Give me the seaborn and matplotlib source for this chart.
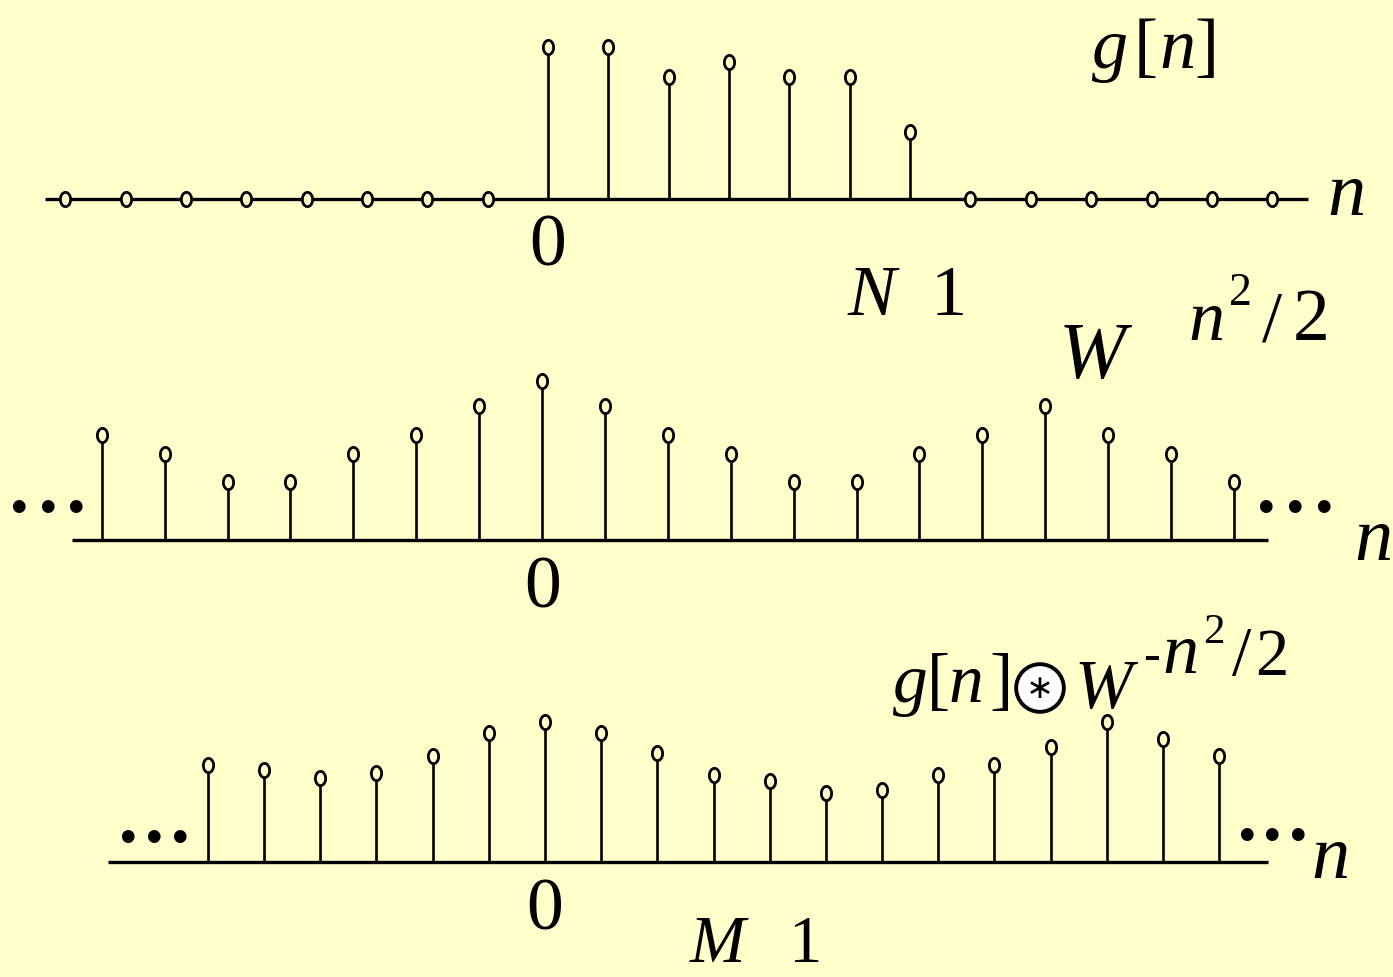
import numpy as np
import matplotlib
matplotlib.use("Agg")
import matplotlib.pyplot as plt
from matplotlib.path import Path
import seaborn as sns

# ---- data (heights, arbitrary units) ----
n_g = list(range(-8, 13))
g_vals = [0, 0, 0, 0, 0, 0, 0, 0, 152, 152, 122, 137, 122, 122, 67, 0, 0, 0, 0, 0, 0]

n_w = list(range(-7, 12))
w_vals = [105, 86, 58, 58, 86, 105, 134, 159, 134, 105, 86, 58, 58, 86, 105, 134, 105, 86, 58]

n_c = list(range(-6, 13))
c_vals = [97, 92, 84, 89, 106, 129, 140, 129, 109, 87, 81, 69, 72, 87, 97, 115, 140, 123, 106]

BG = "#FFFFCC"
W, H = 1393, 977

sns.set_theme(style="white")
plt.rcParams["font.family"] = ["Liberation Serif", "DejaVu Sans"]
plt.rcParams["text.color"] = "black"

fig = plt.figure(figsize=(W / 100, H / 100), dpi=100)
fig.patch.set_facecolor(BG)

t = np.linspace(0, 2 * np.pi, 48)
ellipse = Path(np.c_[0.72 * np.cos(t), np.sin(t)], closed=True)


def panel(top, bottom, base, x0, dx, xmin_b, xmax_b, n, vals):
    ax = fig.add_axes([0, 1 - bottom / H, 1, (bottom - top) / H])
    ax.set_xlim(-x0 / dx, (W - x0) / dx)
    ax.set_ylim(-(bottom - base), base - top)
    ax.axis("off")
    ax.patch.set_alpha(0)
    ax.hlines(0, xmin_b, xmax_b, color="black", lw=2.4, zorder=1)
    nz = [(a, b) for a, b in zip(n, vals) if b != 0]
    ax.vlines([a for a, _ in nz], 0, [b for _, b in nz], color="black", lw=1.9, zorder=2)
    sns.scatterplot(x=n, y=vals, marker=ellipse, s=105, color=BG, edgecolor="black",
                    linewidth=2.0, ax=ax, zorder=3, legend=False)
    return ax


panel(0, 330, 199, 548, 60.35, -8.33, 12.59, n_g, g_vals)
panel(330, 640, 540, 542, 62.9, -7.47, 11.54, n_w, w_vals)
panel(640, 977, 862, 545, 56.17, -7.78, 12.87, n_c, c_vals)

SERIF = ["Liberation Serif", "DejaVu Serif"]


def txt(x, y, s, size=50, it=False, va="baseline", **kw):
    kw.setdefault("family", SERIF)
    fig.text(x / W, 1 - y / H, s, ha="center", va=va, fontsize=size,
             fontstyle="italic" if it else "normal", **kw)


def gn(xs, y, size):
    for x, s, it in zip(xs, ["g", "[", "n", "]"], [True, False, True, False]):
        txt(x, y, s, size, it=it)


def dots(xs, y):
    for x in xs:
        txt(x, y, "●", 12, va="center", family=["DejaVu Sans"])


# panel 1 labels
gn((1110, 1146, 1177, 1206), 68, 52)
txt(548, 265, "0", 53)
txt(1346, 215, "n", 55, it=True)
txt(872, 315, "N", 52, it=True)
txt(949, 315, "1", 52)

# panel 2 labels
txt(1092, 378, "W", 58, it=True)
txt(1206, 340, "n", 52, it=True)
txt(1240, 305, "2", 33)
txt(1272, 340, "/", 52)
txt(1311, 340, "2", 53)
txt(543, 608, "0", 53)
txt(1373, 560, "n", 55, it=True)
dots((18, 47, 75), 506)
dots((1265, 1294, 1323), 506)

# panel 3 labels
gn((910, 938, 966, 1001), 702, 50)
txt(1040, 688, "∗", 24, va="center", family=["DejaVu Sans"],
    bbox=dict(boxstyle="circle,pad=0.22", fc="white", ec="black", lw=2.8))
txt(1103, 708, "W", 50, it=True)
txt(1151, 670, "-", 36)
txt(1180, 673, "n", 52, it=True)
txt(1214, 643, "2", 31)
txt(1242, 675, "/", 50)
txt(1272, 675, "2", 48)
txt(545, 930, "0", 53)
txt(1330, 878, "n", 55, it=True)
txt(718, 976, "M", 48, it=True, va="bottom")
txt(805, 976, "1", 48, va="bottom")
dots((127, 153, 179), 836)
dots((1246, 1271, 1297), 834)

fig.savefig("out.png", dpi=100, facecolor=BG)
